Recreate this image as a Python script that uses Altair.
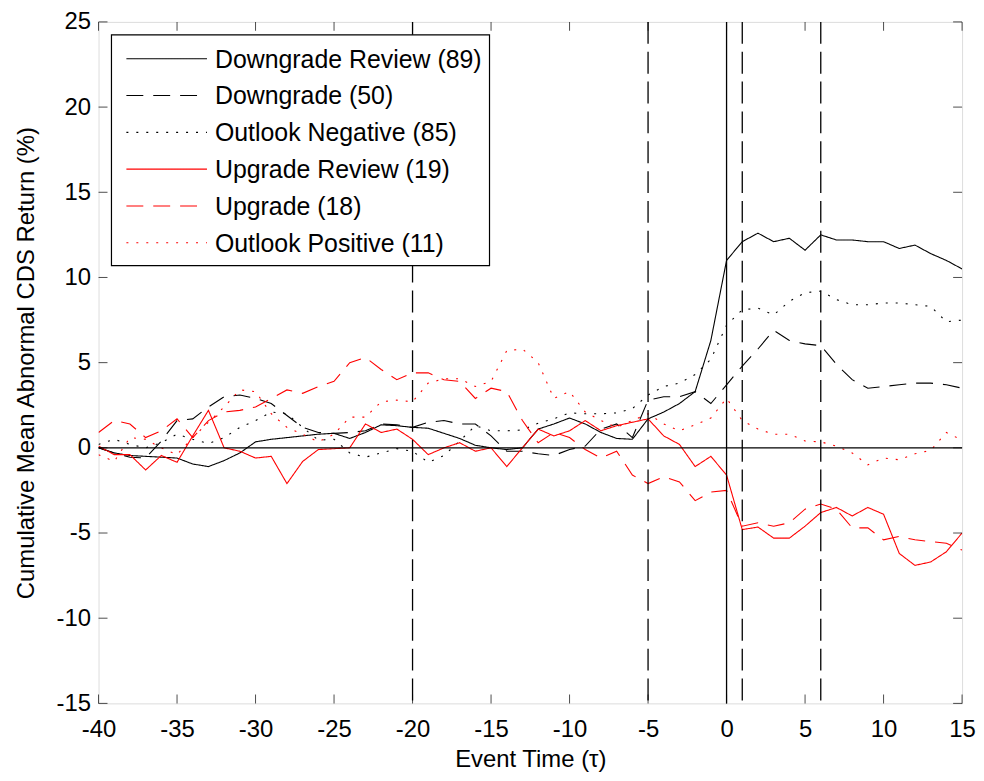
import altair as alt
import pandas as pd

event_time = list(range(-40, 16))

series_names = [
    "Downgrade Review (89)",
    "Downgrade (50)",
    "Outlook Negative (85)",
    "Upgrade Review (19)",
    "Upgrade (18)",
    "Outlook Positive (11)",
]
series_colors = ["black", "black", "black", "red", "red", "red"]
series_dashes = [[1, 0], [17, 10], [2, 8], [1, 0], [17, 10], [2, 8]]

downgrade_review = [
    0.0, -0.3, -0.45, -0.5, -0.55, -0.6, -0.95, -1.1, -0.75, -0.3,
    0.35, 0.5, 0.6, 0.7, 0.8, 0.85, 0.55, 0.9, 1.35, 1.3,
    1.2, 1.15, 0.85, 0.55, 0.15, 0.0, -0.1, 0.0, 1.1, 1.4,
    1.75, 1.4, 0.9, 0.55, 0.5, 1.7, 2.1, 2.6, 3.3, 6.3,
    11.0, 12.1, 12.6, 12.1, 12.3, 11.6, 12.5, 12.2, 12.2, 12.1,
    12.1, 11.7, 11.9, 11.4, 11.0, 10.5,
]
downgrade = [
    0.0, -0.3, -0.55, -0.6, 0.4, 1.6, 1.7, 2.4, 3.0, 3.1,
    2.9, 2.6, 1.9, 1.2, 0.9, 0.85, 0.9, 1.0, 1.4, 1.35,
    1.2, 1.5, 1.6, 1.4, 1.4, 0.7, -0.2, -0.2, -0.35, -0.45,
    -0.1, 0.1, 1.1, 1.4, 0.6, 2.8, 3.0, 3.0, 3.3, 2.6,
    3.7, 4.8, 5.8, 6.9, 6.3, 6.1, 6.0, 4.9, 4.0, 3.5,
    3.6, 3.7, 3.8, 3.8, 3.7, 3.5,
]
outlook_negative = [
    0.2, 0.5, 0.2, 0.0, 0.3, 0.8, 0.5, 0.25, 0.6, 1.2,
    1.6, 2.1, 2.0, 1.2, 0.45, 0.5, -0.3, -0.55, -0.3, -0.05,
    -0.2, -0.85, -0.45, 0.4, 1.3, 1.0, 1.0, 1.05, 1.45, 1.7,
    2.05, 2.0, 2.0, 2.05, 2.3, 3.1, 3.6, 3.8, 4.3, 5.2,
    7.2, 8.1, 8.2, 7.8, 8.6, 9.1, 9.2, 8.7, 8.4, 8.4,
    8.5, 8.5, 8.4, 8.3, 7.4, 7.5,
]
upgrade_review = [
    0.1, -0.4, -0.4, -1.3, -0.45, -0.85, 0.7, 2.2, 0.0, -0.2,
    -0.6, -0.5, -2.1, -0.8, -0.1, -0.05, 0.0, 1.4, 0.9, 1.1,
    0.5, -0.4, 0.0, 0.3, -0.2, 0.0, -1.1, 0.0, 1.1, 0.7,
    1.0, 1.6, 1.0, 1.3, 1.5, 1.7, 0.7, 0.2, -1.1, -0.5,
    -1.6, -4.8, -4.65, -5.3, -5.3, -4.6, -3.8, -3.5, -4.0, -3.5,
    -3.9, -6.2, -6.9, -6.7, -6.1, -5.0,
]
upgrade = [
    0.9, 1.6, 1.4, 0.6, 1.0, 1.7, 0.6, 1.6, 2.1, 2.2,
    2.4, 2.9, 3.4, 3.2, 3.6, 3.9, 5.0, 5.3, 4.6, 4.0,
    4.4, 4.4, 4.0, 3.9, 2.9, 3.5, 3.3, 1.6, 0.3, 0.9,
    0.6, -0.1, -0.6, -0.2, -1.6, -2.1, -1.7, -2.0, -3.1, -2.6,
    -2.5, -4.6, -4.4, -4.6, -4.4, -3.6, -3.3, -3.6, -4.7, -4.7,
    -5.4, -5.2, -5.4, -5.5, -5.6, -6.0,
]
outlook_positive = [
    -0.4, -0.8, 0.6, 0.5, 0.0, -0.4, 0.6, 1.5, 2.4, 3.4,
    3.3, 2.0, 1.2, 0.8, 0.35, 0.8, 1.8, 1.8, 2.7, 2.8,
    2.7, 3.8, 4.05, 4.05, 3.6, 3.9, 5.7, 5.8, 5.0, 2.9,
    3.3, 2.1, 1.6, 1.2, 1.6, 2.0, 1.4, 1.0, 1.35, 1.75,
    2.9, 1.6, 1.1, 0.8, 0.8, 0.4, 0.35, 0.1, -0.3, -1.0,
    -0.6, -0.7, -0.35, -0.15, 0.9, 0.45,
]

x_ticks = [-40, -35, -30, -25, -20, -15, -10, -5, 0, 5, 10, 15]
y_ticks = [-15, -10, -5, 0, 5, 10, 15, 20, 25]
event_lines_dashed = [-20, -5, 1, 6]
event_lines_solid = [0]
zero_line = [0]

all_series = [downgrade_review, downgrade, outlook_negative,
              upgrade_review, upgrade, outlook_positive]
rows = []
for name, vals in zip(series_names, all_series):
    for t, v in zip(event_time, vals):
        rows.append({"t": t, "v": v, "series": name})
df = pd.DataFrame(rows)

W, H = 868, 685
FONT = "Liberation Sans"
LW = 1.1

xscale = alt.Scale(domain=[-40, 15], nice=False, zero=False)
yscale = alt.Scale(domain=[-15, 25], nice=False, zero=False)

axis_common = dict(
    grid=False, ticks=False, tickSize=0, domain=False,
    labelFont=FONT, labelFontSize=24, labelColor="black",
    labelFlush=False, labelOverlap=False,
    labelExpr="toString(datum.value)",
    titleFont=FONT, titleFontSize=24, titleFontWeight="normal", titleColor="black",
)

lines = alt.Chart(df).mark_line(strokeWidth=LW, clip=True).encode(
    x=alt.X("t:Q", scale=xscale,
            axis=alt.Axis(values=x_ticks, title="Event Time (τ)",
                          labelPadding=14, titlePadding=6, **axis_common)),
    y=alt.Y("v:Q", scale=yscale,
            axis=alt.Axis(values=y_ticks, title="Cumulative Mean Abnormal CDS Return (%)",
                          labelPadding=8, titlePadding=18, **axis_common)),
    color=alt.Color("series:N", sort=series_names,
                    scale=alt.Scale(domain=series_names, range=series_colors),
                    legend=None),
    strokeDash=alt.StrokeDash("series:N", sort=series_names,
                              scale=alt.Scale(domain=series_names, range=series_dashes),
                              legend=None),
)

vdash = alt.Chart(pd.DataFrame({"t": event_lines_dashed})).mark_rule(
    color="black", strokeWidth=1.3, strokeDash=[22, 8]).encode(x=alt.X("t:Q", scale=xscale))
vsolid = alt.Chart(pd.DataFrame({"t": event_lines_solid})).mark_rule(
    color="black", strokeWidth=1.3).encode(x=alt.X("t:Q", scale=xscale))
hzero = alt.Chart(pd.DataFrame({"v": zero_line})).mark_rule(
    color="black", strokeWidth=1.3).encode(y=alt.Y("v:Q", scale=yscale))

xt = pd.DataFrame({"t": x_ticks})
yt = pd.DataFrame({"v": y_ticks})
tick_b = alt.Chart(xt).mark_tick(color="black", thickness=1, size=9).encode(
    x=alt.X("t:Q", scale=xscale), y=alt.value(H - 4.5))
tick_t = alt.Chart(xt).mark_tick(color="black", thickness=1, size=9).encode(
    x=alt.X("t:Q", scale=xscale), y=alt.value(4.5))
tick_l = alt.Chart(yt).mark_tick(color="black", thickness=1, size=9).encode(
    y=alt.Y("v:Q", scale=yscale), x=alt.value(4.5))
tick_r = alt.Chart(yt).mark_tick(color="black", thickness=1, size=9).encode(
    y=alt.Y("v:Q", scale=yscale), x=alt.value(W - 4.5))

# Legend drawn as a boxed key in the upper-left corner of the plot
LEG_X0, LEG_X1, LEG_Y0, LEG_Y1 = 13, 393, 13, 245
SYM_X0, SYM_X1, LAB_X = 28, 109, 117
ROW0, ROW_STEP = 37, 37

legend_box = alt.Chart(pd.DataFrame({"k": [0]})).mark_rect(
    fill="white", stroke="black", strokeWidth=1.2).encode(
    x=alt.value(LEG_X0), x2=alt.value(LEG_X1),
    y=alt.value(LEG_Y0), y2=alt.value(LEG_Y1))

legend_layers = [legend_box]
for i, (name, col, dash) in enumerate(zip(series_names, series_colors, series_dashes)):
    ry = ROW0 + i * ROW_STEP
    legend_layers.append(
        alt.Chart(pd.DataFrame({"k": [0]})).mark_rule(
            color=col, strokeWidth=LW, strokeDash=dash).encode(
            x=alt.value(SYM_X0), x2=alt.value(SYM_X1), y=alt.value(ry)))
    legend_layers.append(
        alt.Chart(pd.DataFrame({"k": [0]})).mark_text(
            font=FONT, fontSize=25, color="black", align="left", baseline="middle").encode(
            x=alt.value(LAB_X), y=alt.value(ry + 1), text=alt.value(name)))

chart = alt.layer(lines, vdash, vsolid, hzero, tick_b, tick_t, tick_l, tick_r,
                  *legend_layers).properties(
    width=W, height=H,
    autosize=alt.AutoSizeParams(type="none"),
    padding={"left": 91, "top": 12, "right": 14, "bottom": 67},
).configure_view(stroke="black", strokeWidth=1.3).configure(background="white")

chart.save("out.html", embed_options={"renderer": "svg", "actions": False})
